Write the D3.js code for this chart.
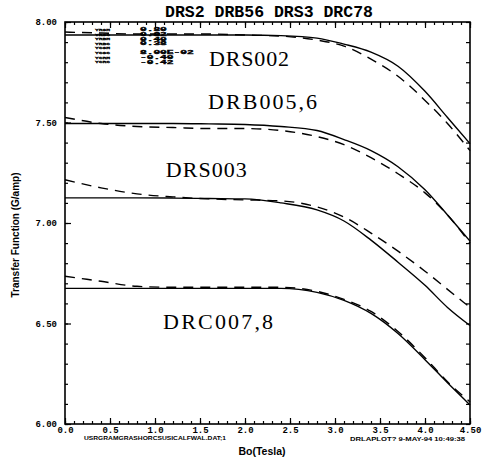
<!DOCTYPE html>
<html>
<head>
<meta charset="utf-8">
<script src="https://cdn.jsdelivr.net/npm/d3@7"></script>
<style>
  body { margin: 0; background: #fff; }
  svg { display: block; }
  text { fill: #000; }
  .tick text { font-family: "Liberation Mono", monospace; font-weight: bold; font-size: 9px; }
  .tick line { stroke: #000; stroke-width: 1.2; }
</style>
</head>
<body>
<svg id="chart" width="489" height="459"></svg>
<script>
// field values (Tesla), shared by every series
const bField = [0, 0.4, 0.8, 1.2, 1.6, 2.0, 2.4, 2.8, 3.1, 3.4, 3.7, 4.0, 4.25, 4.5];

// measured (solid) and fitted (dashed) transfer functions, G/amp
const drs002Solid  = [7.935, 7.935, 7.935, 7.935, 7.935, 7.935, 7.932, 7.92, 7.89, 7.85, 7.78, 7.655, 7.525, 7.395];
const drs002Dashed = [7.95, 7.945, 7.94, 7.94, 7.94, 7.935, 7.93, 7.91, 7.88, 7.815, 7.73, 7.61, 7.495, 7.36];
const drb056Solid  = [7.495, 7.495, 7.495, 7.495, 7.493, 7.49, 7.48, 7.46, 7.415, 7.36, 7.28, 7.165, 7.04, 6.91];
const drb056Dashed = [7.525, 7.495, 7.48, 7.475, 7.47, 7.47, 7.46, 7.43, 7.39, 7.325, 7.245, 7.15, 7.04, 6.90];
const drs003Solid  = [7.125, 7.125, 7.125, 7.124, 7.122, 7.12, 7.10, 7.065, 7.01, 6.915, 6.805, 6.69, 6.58, 6.49];
const drs003Dashed = [7.215, 7.175, 7.145, 7.13, 7.12, 7.115, 7.11, 7.08, 7.03, 6.95, 6.86, 6.76, 6.67, 6.58];
const drc078Solid  = [6.675, 6.675, 6.675, 6.675, 6.675, 6.675, 6.675, 6.655, 6.615, 6.55, 6.45, 6.32, 6.205, 6.095];
const drc078Dashed = [6.735, 6.71, 6.685, 6.68, 6.68, 6.68, 6.68, 6.66, 6.62, 6.56, 6.46, 6.33, 6.21, 6.11];

const curveLabels = ["DRS002", "DRB005,6", "DRS003", "DRC007,8"];
const labelAnchors = [[1.6, 7.78], [1.59, 7.567], [1.12, 7.229], [1.09, 6.473]];
const labelWidths = [80, 109, 81, 110];

const fitNames  = ["YRSM", "YRSC", "YRBM", "YRBC", "YCSM", "YCSC", "YCRM", "YCRC"];
const fitValues = ["0.80", "0.82", "0.40", "0.38", "", "8.00E-02", "-0.40", "-0.42"];

const chartTitle = "DRS2 DRB56 DRS3 DRC78";
const xTitle = "Bo(Tesla)";
const yTitle = "Transfer Function (G/amp)";
const fileNote = "USRGRAMGRASHORCSUSICALFWAL.DAT;1";
const plotNote = "DRLAPLOT? 9-MAY-94 10:49:38";

// layout
const plotLeft = 65, plotRight = 470, plotTop = 22, plotBottom = 424;

const svg = d3.select("#chart");
const x = d3.scaleLinear().domain([0, 4.5]).range([plotLeft, plotRight]);
const y = d3.scaleLinear().domain([6, 8]).range([plotBottom, plotTop]);

const majorX = d3.range(0, 4.501, 0.5);
const minorX = d3.range(0, 4.501, 0.1);
const majorY = d3.range(6, 8.001, 0.5);
const minorY = d3.range(6, 8.001, 0.1);

// bottom axis: inward ticks, labels below
svg.append("g")
  .attr("transform", `translate(0,${plotBottom})`)
  .call(d3.axisBottom(x).tickValues(minorX).tickSize(-3).tickFormat(""))
  .call(g => g.select(".domain").remove());
svg.append("g")
  .attr("transform", `translate(0,${plotBottom})`)
  .call(d3.axisBottom(x).tickValues(majorX).tickSize(-6).tickPadding(3)
    .tickFormat((d, i) => i === majorX.length - 1 ? d3.format(".2f")(d) : d3.format(".1f")(d)))
  .call(g => g.select(".domain").remove());

// top axis: ticks only
svg.append("g")
  .attr("transform", `translate(0,${plotTop})`)
  .call(d3.axisTop(x).tickValues(minorX).tickSize(-3).tickFormat(""))
  .call(g => g.select(".domain").remove());
svg.append("g")
  .attr("transform", `translate(0,${plotTop})`)
  .call(d3.axisTop(x).tickValues(majorX).tickSize(-6).tickFormat(""))
  .call(g => g.select(".domain").remove());

// left axis
svg.append("g")
  .attr("transform", `translate(${plotLeft},0)`)
  .call(d3.axisLeft(y).tickValues(minorY).tickSize(-3).tickFormat(""))
  .call(g => g.select(".domain").remove());
svg.append("g")
  .attr("transform", `translate(${plotLeft},0)`)
  .call(d3.axisLeft(y).tickValues(majorY).tickSize(-6).tickPadding(8).tickFormat(d3.format(".2f")))
  .call(g => g.select(".domain").remove());

// right axis
svg.append("g")
  .attr("transform", `translate(${plotRight},0)`)
  .call(d3.axisRight(y).tickValues(minorY).tickSize(-4).tickFormat(""))
  .call(g => g.select(".domain").remove());

// frame
svg.append("rect")
  .attr("x", plotLeft).attr("y", plotTop)
  .attr("width", plotRight - plotLeft).attr("height", plotBottom - plotTop)
  .attr("fill", "none").attr("stroke", "#000").attr("stroke-width", 1.6);

// curves
const line = d3.line()
  .x((d, i) => x(bField[i]))
  .y(d => y(d))
  .curve(d3.curveMonotoneX);

const series = [
  { values: drs002Solid, dashed: false },
  { values: drs002Dashed, dashed: true },
  { values: drb056Solid, dashed: false },
  { values: drb056Dashed, dashed: true },
  { values: drs003Solid, dashed: false },
  { values: drs003Dashed, dashed: true },
  { values: drc078Solid, dashed: false },
  { values: drc078Dashed, dashed: true }
];

svg.append("g")
  .selectAll("path")
  .data(series)
  .join("path")
    .attr("d", d => line(d.values))
    .attr("fill", "none")
    .attr("stroke", "#000")
    .attr("stroke-width", 1.4)
    .attr("stroke-dasharray", d => d.dashed ? "10,7" : null);

// curve names (typewriter-like serif)
svg.append("g")
  .selectAll("text")
  .data(curveLabels)
  .join("text")
    .attr("x", (d, i) => x(labelAnchors[i][0]))
    .attr("y", (d, i) => y(labelAnchors[i][1]))
    .attr("font-family", "Liberation Serif, serif")
    .attr("font-size", 22)
    .attr("textLength", (d, i) => labelWidths[i])
    .attr("lengthAdjust", "spacing")
    .text(d => d);

// fit parameters block: tiny squashed rows like the plotter output
const rowY = i => 27 + i * 4.6;
const fit = svg.append("g").attr("font-family", "Liberation Mono, monospace").attr("font-weight", "bold");
fit.selectAll(".fitName")
  .data(fitNames)
  .join("text")
    .attr("class", "fitName")
    .attr("x", 95)
    .attr("y", (d, i) => rowY(i) + 4)
    .attr("font-size", 4.4)
    .attr("textLength", 15)
    .attr("lengthAdjust", "spacingAndGlyphs")
    .attr("stroke", "#000").attr("stroke-width", 0.3)
    .text(d => d);
fit.selectAll(".fitValue")
  .data(fitValues.filter(d => d !== ""))
  .join("text")
    .attr("class", "fitValue")
    .attr("x", 140)
    .attr("y", d => rowY(fitValues.indexOf(d)) + 4.3)
    .attr("font-size", 4.6)
    .attr("textLength", d => d.length * 6.7)
    .attr("lengthAdjust", "spacingAndGlyphs")
    .attr("stroke", "#000").attr("stroke-width", 0.35)
    .text(d => d);

// titles
svg.append("text")
  .attr("x", 269).attr("y", 17)
  .attr("text-anchor", "middle")
  .attr("font-family", "Liberation Mono, monospace")
  .attr("font-weight", "bold")
  .attr("font-size", 16.5)
  .text(chartTitle);

svg.append("text")
  .attr("x", 262).attr("y", 455)
  .attr("text-anchor", "middle")
  .attr("font-family", "Liberation Sans, sans-serif")
  .attr("font-weight", "bold")
  .attr("font-size", 10.5)
  .text(xTitle);

svg.append("text")
  .attr("transform", `translate(19,${235}) rotate(-90)`)
  .attr("text-anchor", "middle")
  .attr("font-family", "Liberation Sans, sans-serif")
  .attr("font-weight", "bold")
  .attr("font-size", 10)
  .text(yTitle);

svg.append("text")
  .attr("x", 84).attr("y", 440)
  .attr("font-family", "Liberation Sans, sans-serif")
  .attr("font-weight", "bold")
  .attr("font-size", 5.5)
  .attr("textLength", 142)
  .attr("lengthAdjust", "spacingAndGlyphs")
  .text(fileNote);

svg.append("text")
  .attr("x", 350).attr("y", 441)
  .attr("font-family", "Liberation Sans, sans-serif")
  .attr("font-weight", "bold")
  .attr("font-size", 5.5)
  .attr("textLength", 115)
  .attr("lengthAdjust", "spacingAndGlyphs")
  .text(plotNote);
</script>
</body>
</html>
